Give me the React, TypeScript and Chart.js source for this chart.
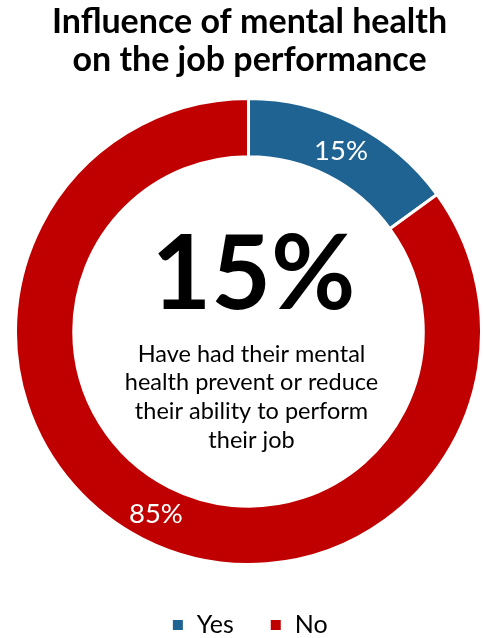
import React, { useEffect, useRef } from "react";
import { Chart, registerables } from "chart.js";

Chart.register(...registerables);

const TITLE_LINES = ["Influence of mental health", "on the job performance"];
const CATEGORIES = ["Yes", "No"];
const VALUES = [15, 85];
const COLORS = ["#1F6392", "#C00000"];
const CENTER_VALUE = "15%";
const CENTER_LINES = [
  "Have had their mental",
  "health prevent or reduce",
  "their ability to perform",
  "their job",
];

const FONT = "Lato";

const centerPlugin = {
  id: "centerText",
  afterDatasetsDraw(chart: any) {
    const { ctx } = chart;
    const meta = chart.getDatasetMeta(0);
    const arc0 = meta.data[0];
    if (!arc0) return;
    const cx = arc0.x;
    const cy = arc0.y;
    ctx.save();
    const total = VALUES.reduce((a, b) => a + b, 0);
    ctx.fillStyle = "#ffffff";
    ctx.textAlign = "center";
    ctx.textBaseline = "middle";
    ctx.font = `normal 27.5px ${FONT}`;
    meta.data.forEach((el: any, i: number) => {
      const p = el.tooltipPosition();
      const pct = Math.round((VALUES[i] / total) * 100) + "%";
      ctx.fillText(pct, p.x, p.y + 1);
    });
    ctx.fillStyle = "#000000";
    ctx.textBaseline = "alphabetic";
    ctx.font = `bold 103px ${FONT}`;
    ctx.fillText(CENTER_VALUE, cx + 5, cy - 23);
    ctx.font = `normal 23.5px ${FONT}`;
    CENTER_LINES.forEach((line, i) => {
      ctx.fillText(line, cx + 3, cy + 30 + i * 28.7);
    });
    ctx.restore();
  },
};

export default function App() {
  const canvasRef = useRef<HTMLCanvasElement | null>(null);

  useEffect(() => {
    if (!canvasRef.current) return;
    const chart = new Chart(canvasRef.current, {
      type: "doughnut",
      data: {
        labels: CATEGORIES,
        datasets: [
          {
            data: VALUES,
            backgroundColor: COLORS,
            borderColor: "#ffffff",
            borderWidth: 3,
          },
        ],
      },
      options: {
        responsive: false,
        animation: false,
        cutout: "75%",
        layout: { padding: { left: 14, right: -2, top: 0, bottom: -9.5 } },
        plugins: {
          title: {
            display: true,
            text: TITLE_LINES,
            color: "#000000",
            font: { family: FONT, size: 34, weight: "bold", lineHeight: 38 / 34 },
            padding: { top: 3, bottom: 7 },
          },
          legend: {
            display: true,
            position: "bottom",
            labels: {
              boxWidth: 13,
              boxHeight: 13,
              padding: 35.5,
              color: "#000000",
              font: { family: FONT, size: 25 },
            },
          },
          tooltip: { enabled: false },
        },
      },
      plugins: [centerPlugin],
    });
    return () => chart.destroy();
  }, []);

  return (
    <div style={{ position: "absolute", left: 0, top: 0, width: 483, height: 638, background: "#fff" }}>
      <canvas ref={canvasRef} width={483} height={638} style={{ display: "block" }} />
    </div>
  );
}
